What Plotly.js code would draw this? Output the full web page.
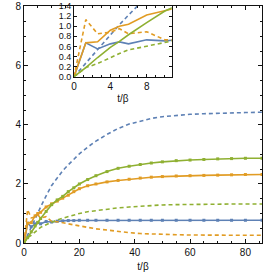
<!DOCTYPE html>
<html><head><meta charset="utf-8">
<script src="https://cdn.plot.ly/plotly-3.0.1.min.js"></script>
<style>html,body{margin:0;padding:0;background:#fff}#c{width:263px;height:274px}</style>
</head><body><div id="c"></div>
<script>
const t = [0, 1.3, 2.6, 4, 5, 6, 8, 10, 12, 14, 16, 18, 20, 23, 26, 30, 34, 38, 42, 46, 50, 55, 60, 65, 70, 75, 80, 86];
const blueSolid = [0, 0.67, 0.55, 0.65, 0.69, 0.65, 0.73, 0.71, 0.74, 0.75, 0.76, 0.76, 0.77, 0.77, 0.77, 0.77, 0.77, 0.77, 0.77, 0.77, 0.77, 0.77, 0.77, 0.77, 0.77, 0.77, 0.77, 0.77];
const blueDashed = [0, 0.27, 0.55, 0.83, 1.03, 1.22, 1.6, 1.95, 2.2, 2.45, 2.65, 2.85, 3.02, 3.25, 3.45, 3.68, 3.88, 4.03, 4.13, 4.22, 4.28, 4.33, 4.36, 4.38, 4.40, 4.41, 4.42, 4.43];
const orangeSolid = [0, 0.67, 0.69, 0.92, 1.0, 1.04, 1.22, 1.33, 1.42, 1.52, 1.62, 1.74, 1.84, 1.94, 2.0, 2.07, 2.12, 2.16, 2.2, 2.23, 2.25, 2.27, 2.28, 2.29, 2.3, 2.31, 2.32, 2.32];
const orangeDashed = [0, 1.13, 0.85, 0.88, 0.95, 0.85, 0.89, 0.73, 0.72, 0.68, 0.65, 0.62, 0.58, 0.53, 0.48, 0.44, 0.39, 0.35, 0.32, 0.30, 0.29, 0.28, 0.27, 0.27, 0.26, 0.26, 0.26, 0.26];
const greenSolid = [0, 0.18, 0.38, 0.58, 0.7, 0.83, 1.07, 1.30, 1.46, 1.58, 1.74, 1.87, 2.0, 2.15, 2.28, 2.42, 2.53, 2.6, 2.66, 2.71, 2.75, 2.79, 2.81, 2.83, 2.85, 2.86, 2.87, 2.87];
const greenDashed = [0, 0.18, 0.26, 0.38, 0.46, 0.53, 0.62, 0.71, 0.78, 0.84, 0.9, 0.95, 1.0, 1.06, 1.1, 1.14, 1.19, 1.22, 1.25, 1.27, 1.29, 1.30, 1.31, 1.31, 1.32, 1.32, 1.32, 1.32];
const xTitle = "t/β";
const mainYTicks = [0, 2, 4, 6, 8];
const insetXTicks = [0, 4, 8];
const insetYTicks = [0, 0.2, 0.4, 0.6, 0.8, 1.0, 1.2, 1.4];

const BLUE = '#5E81B5', ORANGE = '#E19C24', GREEN = '#8FB032';
const series = [
  {y: blueSolid, c: BLUE, dash: 'solid'},
  {y: blueDashed, c: BLUE, dash: '4px,3px'},
  {y: orangeSolid, c: ORANGE, dash: 'solid'},
  {y: orangeDashed, c: ORANGE, dash: '4px,3px'},
  {y: greenSolid, c: GREEN, dash: 'solid'},
  {y: greenDashed, c: GREEN, dash: '4px,3px'}
];
const data = [];
series.forEach(s => {
  const solid = s.dash === 'solid';
  data.push({x: t, y: s.y, xaxis: 'x', yaxis: 'y', type: 'scatter',
    mode: solid ? 'lines+markers' : 'lines',
    line: {color: s.c, width: 1.6, dash: s.dash},
    marker: {color: s.c, size: 3, symbol: 'square'},
    showlegend: false, hoverinfo: 'skip'});
});
series.forEach(s => {
  data.push({x: t, y: s.y, xaxis: 'x2', yaxis: 'y2', type: 'scatter', mode: 'lines',
    line: {color: s.c, width: 1.6, dash: s.dash}, showlegend: false, hoverinfo: 'skip'});
});
const axBase = {showline: true, linecolor: '#111', linewidth: 1, mirror: 'ticks', ticks: 'inside',
  tickcolor: '#111', showgrid: false, zeroline: false, automargin: false,
  tickfont: {family: 'Liberation Sans, Arial', size: 10, color: '#111'}};
const layout = {
  width: 263, height: 274,
  margin: {l: 24, r: 1, t: 6, b: 31},
  paper_bgcolor: '#fff', plot_bgcolor: '#fff',
  xaxis: Object.assign({}, axBase, {domain: [0, 1], range: [0, 86], dtick: 20, ticklen: 4,
    minor: {dtick: 5, ticks: 'inside', ticklen: 2, tickcolor: '#111'},
    title: {text: xTitle, font: {family: 'Liberation Sans, Arial', size: 10, color: '#111'}, standoff: 5}}),
  yaxis: Object.assign({}, axBase, {domain: [0, 1], range: [0, 8.03], tickvals: mainYTicks, ticklen: 4,
    ticklabeloverflow: 'allow',
    minor: {dtick: 0.5, ticks: 'inside', ticklen: 2, tickcolor: '#111'}}),
  xaxis2: Object.assign({}, axBase, {anchor: 'y2', domain: [0.21, 0.6206], range: [0, 10.75], tickvals: insetXTicks, ticklen: 3,
    minor: {dtick: 1, ticks: 'inside', ticklen: 1.5, tickcolor: '#111'},
    title: {text: xTitle, font: {family: 'Liberation Sans, Arial', size: 10, color: '#111'}, standoff: 4}}),
  yaxis2: Object.assign({}, axBase, {anchor: 'x2', domain: [0.7017, 1], range: [0, 1.4], tickvals: insetYTicks,
    tickformat: '.1f', ticklen: 3, tickfont: {family: 'Liberation Sans, Arial', size: 9, color: '#111'}})
};
Plotly.newPlot('c', data, layout, {staticPlot: true, displayModeBar: false});
</script></body></html>
